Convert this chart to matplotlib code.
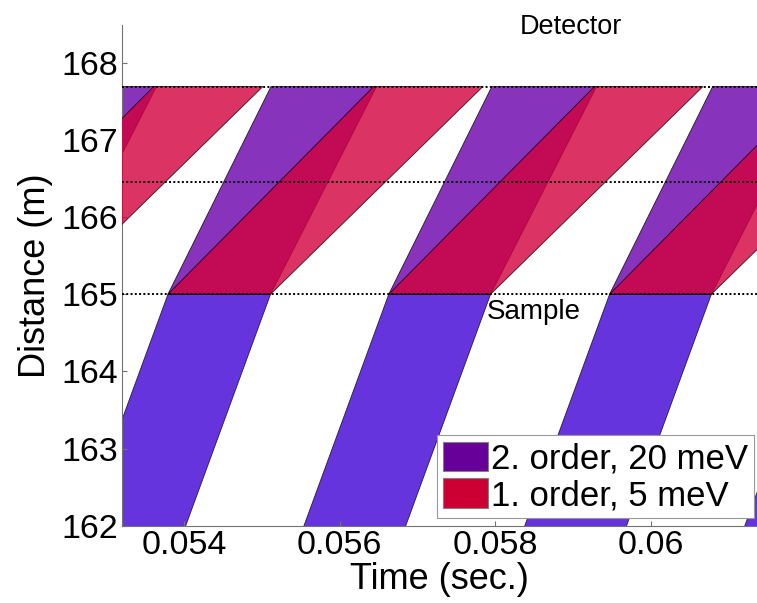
import matplotlib
matplotlib.use("Agg")
import matplotlib.pyplot as plt
from matplotlib.patches import Polygon, Patch

plt.rcParams['font.family'] = ['Liberation Sans', 'DejaVu Sans']

# ---- data ----
# pulse arrival window at the sample position (s)
pulse_start = [0.05096, 0.05379, 0.05663, 0.05947, 0.06230]
pulse_end = [0.05228, 0.05511, 0.05794, 0.06078, 0.06362]
# neutron speeds (m/s)
v_incoming = 2750.0
v_20meV = [2030.0, 1975.0]   # leading edge, trailing edge
v_5meV = [1017.0, 985.0]     # leading edge, trailing edge
# positions (m)
d_sample = 165.0
d_middle = 166.45
d_detector = 167.69
d_source_plot = 160.0

x_ticks = [0.054, 0.056, 0.058, 0.06]
x_tick_labels = ['0.054', '0.056', '0.058', '0.06']
y_ticks = [162, 163, 164, 165, 166, 167, 168]
legend_labels = ['2. order, 20 meV', '1. order, 5 meV']

# ---- styling ----
col_in = '#6634DC'
col_20 = '#6A00AA'
col_5 = '#D2003C'
alpha_sc = 0.8
leg_20 = '#660099'
leg_5 = '#CC0033'

W, H = 757, 603
fig = plt.figure(figsize=(W / 100, H / 100), dpi=100)
ax_l, ax_r, ax_t, ax_b = 122, 757, 25, 525.7
ax = fig.add_axes([ax_l / W, 1 - ax_b / H, (ax_r - ax_l) / W, (ax_b - ax_t) / H])
ax.set_xlim(0.053199, 0.061366)
ax.set_ylim(162, 168.488)


def band(t0, t1, va, vb, d0, d1):
    # parallelogram of neutrons passing d0 between t0 and t1 travelling to d1
    return [(t0, d0), (t1, d0),
            (t1 + (d1 - d0) / vb, d1), (t0 + (d1 - d0) / va, d1)]


edge_kw = dict(edgecolor=(0, 0, 0, 0.75), linewidth=0.6)

# incoming pulses (before the sample)
for a, b in zip(pulse_start, pulse_end):
    poly = band(a, b, v_incoming, v_incoming, d_sample, d_source_plot)
    ax.add_patch(Polygon(poly, closed=True, facecolor=col_in, zorder=1, **edge_kw))

# scattered 20 meV (2nd order)
for a, b in zip(pulse_start, pulse_end):
    poly = band(a, b, v_20meV[0], v_20meV[1], d_sample, d_detector)
    ax.add_patch(Polygon(poly, closed=True, facecolor=col_20, alpha=alpha_sc,
                         zorder=2, **edge_kw))

# scattered 5 meV (1st order)
for a, b in zip(pulse_start, pulse_end):
    poly = band(a, b, v_5meV[0], v_5meV[1], d_sample, d_detector)
    ax.add_patch(Polygon(poly, closed=True, facecolor=col_5, alpha=alpha_sc,
                         zorder=3, **edge_kw))

for d in (d_sample, d_middle, d_detector):
    ax.axhline(d, color='k', linestyle=(0, (1, 1.2)), linewidth=1.4, zorder=5)

ax.text(0.058318, 168.368, 'Detector', fontsize=19.5, ha='left', va='baseline')
ax.text(0.057893, 164.68, 'Sample', fontsize=20, ha='left', va='baseline', zorder=6)

ax.set_xticks(x_ticks)
ax.set_xticklabels(x_tick_labels)
ax.set_yticks(y_ticks)
for s in ('top', 'right'):
    ax.spines[s].set_visible(False)
for s in ('left', 'bottom'):
    ax.spines[s].set_color('0.45')
    ax.spines[s].set_linewidth(0.8)
ax.tick_params(direction='in', length=3.6, width=0.8, color='0.45',
               labelsize=24.5, labelcolor='k', pad=3)

ax.set_xlabel('Time (sec.)', fontsize=26, labelpad=1)
ax.set_ylabel('Distance (m)', fontsize=26, labelpad=6)

handles = [Patch(facecolor=leg_20, edgecolor='0.5', linewidth=0.8),
           Patch(facecolor=leg_5, edgecolor='0.5', linewidth=0.8)]
leg = ax.legend(handles, legend_labels, loc='lower right',
                bbox_to_anchor=(754.3 / W, 1 - 518.3 / H),
                bbox_transform=fig.transFigure, fontsize=25,
                frameon=True, fancybox=False, framealpha=1.0, borderaxespad=0,
                borderpad=0.18, handlelength=1.29, handleheight=0.94,
                handletextpad=0.09, labelspacing=0.08)
leg.get_frame().set_edgecolor('0.6')
leg.get_frame().set_linewidth(0.8)
leg.set_zorder(10)

fig.savefig('out.png', dpi=100)
